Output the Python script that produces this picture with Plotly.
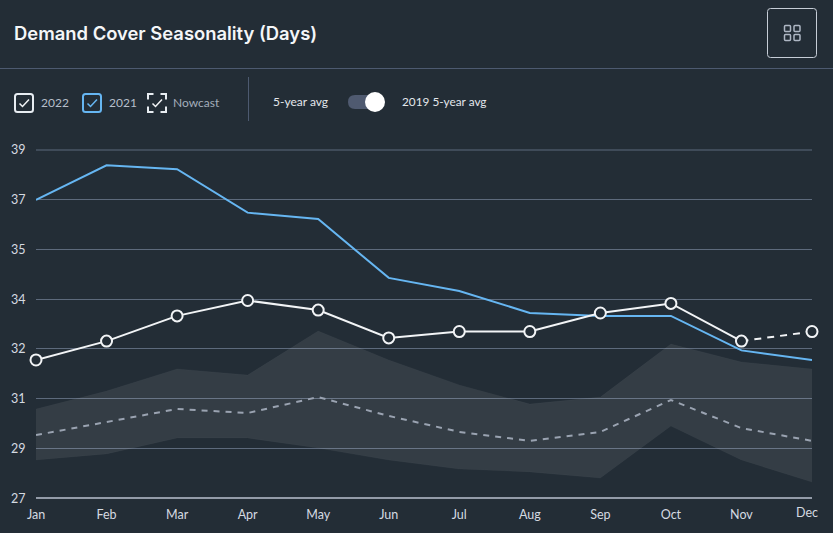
import plotly.graph_objects as go

months = ["Jan","Feb","Mar","Apr","May","Jun","Jul","Aug","Sep","Oct","Nov","Dec"]
series_2021 = [37.28,38.47,38.34,36.84,36.62,34.59,34.14,33.38,33.28,33.28,32.09,31.76]
series_2022 = [31.76,32.41,33.28,33.81,33.48,32.52,32.74,32.74,33.38,33.71,32.41]
nowcast_months = ["Nov","Dec"]
nowcast = [32.41,32.74]
avg_5y = [29.17,29.62,30.07,29.93,30.48,29.83,29.28,28.97,29.28,30.38,29.41,28.97]
band_upper = [30.07,30.69,31.45,31.24,32.76,31.76,30.90,30.24,30.48,32.31,31.69,31.45]
band_lower = [28.31,28.52,29.07,29.07,28.72,28.31,28.0,27.90,27.69,29.48,28.31,27.55]
y_tick_vals = [27,28.714,30.429,32.143,33.857,35.571,37.286,39]
y_tick_text = ["27","29","31","32","34","35","37","39"]

BG = "#232d36"
FONT = "Lato, 'Open Sans', sans-serif"
BLUE = "#66b6f2"
L, R, T, B = 36, 812, 150, 498
W, H = 833, 533

def X(p): return (p - L) / (R - L)
def Y(p): return (B - p) / (B - T)

fig = go.Figure()
fig.add_trace(go.Scatter(x=months, y=band_upper, mode="lines",
                         line=dict(width=0.5, color="rgba(255,255,255,0.05)"), showlegend=False))
fig.add_trace(go.Scatter(x=months, y=band_lower, mode="lines",
                         line=dict(width=0.5, color="rgba(255,255,255,0.05)"),
                         fill="tonexty", fillcolor="rgba(255,255,255,0.08)", showlegend=False))
fig.add_trace(go.Scatter(x=months, y=avg_5y, mode="lines",
                         line=dict(color="#9aa3b1", width=2, dash="6px 6px"), showlegend=False))
fig.add_trace(go.Scatter(x=months, y=series_2021, mode="lines",
                         line=dict(color=BLUE, width=2), showlegend=False))
fig.add_trace(go.Scatter(x=nowcast_months, y=nowcast, mode="lines",
                         line=dict(color="#f2f4f6", width=2, dash="7px 6px"), showlegend=False, cliponaxis=False))
fig.add_trace(go.Scatter(x=months[:11], y=series_2022, mode="lines+markers",
                         line=dict(color="#f2f4f6", width=2),
                         marker=dict(size=11, color=BG, line=dict(color="#f2f4f6", width=2)),
                         showlegend=False, cliponaxis=False))
fig.add_trace(go.Scatter(x=nowcast_months[1:], y=nowcast[1:], mode="markers",
                         marker=dict(size=11, color=BG, line=dict(color="#f2f4f6", width=2)),
                         showlegend=False, cliponaxis=False))

def rrect(x0, y0, x1, y1, r):
    return (f"M {X(x0+r)} {Y(y0)} L {X(x1-r)} {Y(y0)} Q {X(x1)} {Y(y0)} {X(x1)} {Y(y0+r)} "
            f"L {X(x1)} {Y(y1-r)} Q {X(x1)} {Y(y1)} {X(x1-r)} {Y(y1)} L {X(x0+r)} {Y(y1)} "
            f"Q {X(x0)} {Y(y1)} {X(x0)} {Y(y1-r)} L {X(x0)} {Y(y0+r)} Q {X(x0)} {Y(y0)} {X(x0+r)} {Y(y0)} Z")

def check(x0, y0, color):
    return dict(type="path", xref="paper", yref="paper",
                path=f"M {X(x0+4.5)} {Y(y0+9.5)} L {X(x0+7.5)} {Y(y0+12.5)} L {X(x0+14)} {Y(y0+5.5)}",
                line=dict(color=color, width=1.5))

def hline(y, x0=0, x1=W, color="#4d5a70", width=1):
    return dict(type="line", xref="paper", yref="paper", x0=X(x0), x1=X(x1), y0=Y(y), y1=Y(y),
                line=dict(color=color, width=width))

shapes = [hline(68.5)]
shapes.append(dict(type="line", xref="paper", yref="paper", x0=X(248.5), x1=X(248.5), y0=Y(77), y1=Y(121),
                   line=dict(color="#4d5a70", width=1)))
shapes.append(dict(type="path", xref="paper", yref="paper", path=rrect(767.5, 8.5, 816.5, 57.5, 3),
                   line=dict(color="#c6cdd7", width=1)))
for ix, iy in [(784.5, 25.5), (794, 25.5), (784.5, 34.5), (794, 34.5)]:
    shapes.append(dict(type="path", xref="paper", yref="paper", path=rrect(ix, iy, ix+6, iy+6, 1),
                       line=dict(color="#aeb7c4", width=1.5)))
shapes.append(dict(type="path", xref="paper", yref="paper", path=rrect(15, 94, 33, 112, 2.5),
                   line=dict(color="#e8edf2", width=2)))
shapes.append(check(15, 94, "#f2f4f6"))
shapes.append(dict(type="path", xref="paper", yref="paper", path=rrect(83, 94, 101, 112, 2.5),
                   line=dict(color=BLUE, width=2)))
shapes.append(check(83, 94, BLUE))
cx0, cy0, cx1, cy1, c = 148, 94, 166, 112, 5.5
for px, py, dx, dy in [(cx0, cy0, 1, 1), (cx1, cy0, -1, 1), (cx0, cy1, 1, -1), (cx1, cy1, -1, -1)]:
    shapes.append(dict(type="path", xref="paper", yref="paper",
                       path=f"M {X(px+dx*c)} {Y(py)} L {X(px)} {Y(py)} L {X(px)} {Y(py+dy*c)}",
                       line=dict(color="#e8edf2", width=2)))
shapes.append(check(148, 94, "#f2f4f6"))
shapes.append(dict(type="path", xref="paper", yref="paper", path=rrect(348, 95, 384, 109, 7),
                   fillcolor="#4f5a70", line=dict(width=0)))
shapes.append(dict(type="circle", xref="paper", yref="paper", x0=X(365), x1=X(385), y0=Y(92), y1=Y(112),
                   fillcolor="#ffffff", line=dict(width=0)))

def label(text, px, py, size=11.8, color="#e3e7ec", anchor="left", weight=None, family=FONT):
    return dict(text=text, xref="paper", yref="paper", x=X(px), y=Y(py), showarrow=False,
                xanchor=anchor, yanchor="middle",
                font=dict(family=family, size=size, color=color, weight=weight))

annotations = [
    label("Demand Cover Seasonality (Days)", 12, 33.5, size=18.4, color="#f4f6f8", weight=600, family="Inter, Lato, sans-serif"),
    label("2022", 39, 102.5, color="#b6bfca", size=12),
    label("2021", 107, 102.5, color="#b6bfca", size=12),
    label("Nowcast", 171, 102.5, color="#a3adba", size=12),
    label("5-year avg", 271, 102, size=12),
    label("2019 5-year avg", 400, 102),
    dict(text="Dec", x="Dec", xref="x", y=0, yref="paper", yanchor="top", yshift=-5, xshift=-5,
         showarrow=False, font=dict(family=FONT, size=12.5, color="#d5dae1")),
]

fig.update_layout(
    width=W, height=H,
    margin=dict(l=L, r=W-R, t=T, b=H-B),
    paper_bgcolor=BG, plot_bgcolor=BG,
    showlegend=False,
    font=dict(family=FONT, color="#d5dae1", size=12.5),
    xaxis=dict(type="category", categoryorder="array", categoryarray=months, range=[0, 11], showgrid=False, zeroline=False,
               showline=False, tickmode="array", tickvals=months[:11], ticktext=months[:11],
               ticks="outside", ticklen=5, tickcolor=BG, tickfont=dict(size=12.5, color="#d5dae1")),
    yaxis=dict(range=[27, 39], tickmode="array", tickvals=y_tick_vals[1:], ticktext=y_tick_text[1:],
               showgrid=True, gridcolor="#5d6a7c", gridwidth=1, zeroline=False, showline=False,
               ticks="outside", ticklen=7, tickcolor=BG, tickfont=dict(size=12.5, color="#d5dae1")),
    shapes=shapes + [hline(498, L, R, "#939ba8", 2), hline(150, L, R, "#5d6a7c", 1)],
    annotations=annotations + [dict(text="27", x=0, xref="paper", y=27, yref="y", xanchor="right", xshift=-8,
                                    showarrow=False, font=dict(family=FONT, size=12.5, color="#d5dae1"))],
)
fig.write_html("out.html", config=dict(displayModeBar=False),
               post_script="document.body.style.margin='0';document.body.style.overflow='hidden';")
